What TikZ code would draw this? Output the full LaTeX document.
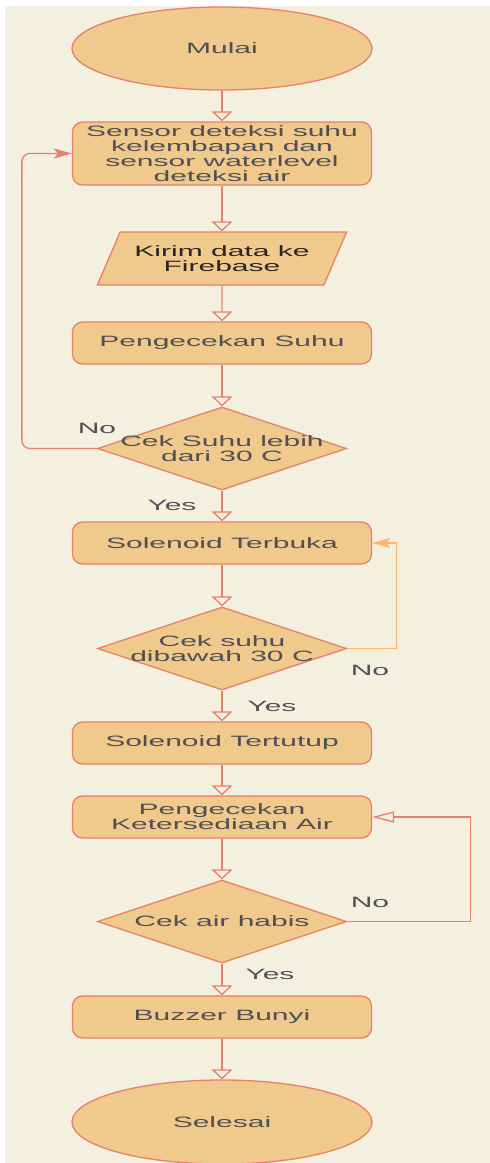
\documentclass[tikz,border=0pt]{standalone}
\usepackage{fontspec}
\usetikzlibrary{shapes.geometric,arrows.meta}
\newfontfamily\flowfont{Liberation Sans}[FakeStretch=2.0]
\definecolor{bgcol}{HTML}{F3F0DF}
\definecolor{boxfill}{HTML}{F0C98C}
\definecolor{edgecol}{HTML}{E8806A}
\definecolor{loopcol}{HTML}{FFB469}
\definecolor{txtcol}{HTML}{4F4F55}

\begin{document}
\begin{tikzpicture}[x=1pt,y=-1pt,
  txt/.style={font={\flowfont\fontsize{15pt}{15pt}\selectfont},text=txtcol,align=center},
  base/.style={txt,draw=edgecol,fill=boxfill,line width=1.3pt,inner sep=0pt},
  terminal/.style={base,ellipse,minimum width=300pt,minimum height=83pt},
  process/.style={base,rounded corners=10pt,minimum width=299pt,minimum height=42pt},
  io/.style={base,trapezium,trapezium left angle=53,trapezium right angle=127,
    trapezium stretches=true,minimum width=250pt,minimum height=53pt},
  decision/.style={base,diamond,minimum width=249pt,minimum height=83pt},
  lbl/.style={txt,inner sep=0pt},
  flow/.style={draw=edgecol,line width=1.3pt,-{Triangle[open,length=10pt,width=21pt]}},
  back/.style={draw=edgecol,line width=1.3pt,rounded corners=8pt,-{Stealth[length=18pt,width=10pt,inset=4pt]}}]

% latar
\fill[white] (0,0) rectangle (490,1163);
\fill[bgcol] (5,6) rectangle (490,1163);
\useasboundingbox (0,0) rectangle (490,1163);

% simpul
\node[terminal] (mulai) at (222,48.5) {Mulai};
\node[process,minimum height=63pt] (sensor) at (222,153.5) {Sensor deteksi suhu\\kelembapan dan\\sensor waterlevel\\deteksi air};
\node[io,text=black!85] (kirim) at (222,258.5) {Kirim data ke\\Firebase};
\node[process] (ceksuhu) at (222,343) {Pengecekan Suhu};
\node[decision,label={[txt]center:Cek Suhu lebih\\dari 30 C}] (cek1) at (222,448.5) {};
\node[process] (terbuka) at (222,543) {Solenoid Terbuka};
\node[decision,label={[txt]center:Cek suhu\\dibawah 30 C}] (cek2) at (222,648.5) {};
\node[process] (tertutup) at (222,743) {Solenoid Tertutup};
\node[process] (cekair) at (222,817) {Pengecekan\\Ketersediaan Air};
\node[decision,label={[txt]center:Cek air habis}] (cek3) at (222,921.5) {};
\node[process] (buzzer) at (222,1017) {Buzzer Bunyi};
\node[terminal,minimum height=84pt] (selesai) at (222,1122) {Selesai};

% alur utama
\draw[flow] (mulai) -- (sensor);
\draw[flow] (sensor) -- (kirim);
\draw[flow] (kirim) -- (ceksuhu);
\draw[flow] (ceksuhu) -- (cek1);
\draw[flow] (cek1) -- (terbuka);
\draw[flow] (terbuka) -- (cek2);
\draw[flow] (cek2) -- (tertutup);
\draw[flow] (tertutup) -- (cekair);
\draw[flow] (cekair) -- (cek3);
\draw[flow] (cek3) -- (buzzer);
\draw[flow] (buzzer) -- (selesai);

% perulangan
\draw[back] (cek1.west) -- ++(-75,0) |- (sensor.west);
\draw[back,draw=loopcol,rounded corners=0pt] (cek2.east) -- ++(49,0) |- (terbuka.east);
\draw[flow,-{Triangle[open,length=22pt,width=11pt]}] (cek3.east) -- ++(123,0) |- (cekair.east);

% label
\node[lbl] (no1) at (97,428) {No};
\node[lbl] (yes1) at (172,505) {Yes};
\node[lbl] (no2) at (370,670) {No};
\node[lbl] (yes2) at (272,706) {Yes};
\node[lbl] (no3) at (370,902) {No};
\node[lbl] (yes3) at (270,974) {Yes};
\end{tikzpicture}
\end{document}
